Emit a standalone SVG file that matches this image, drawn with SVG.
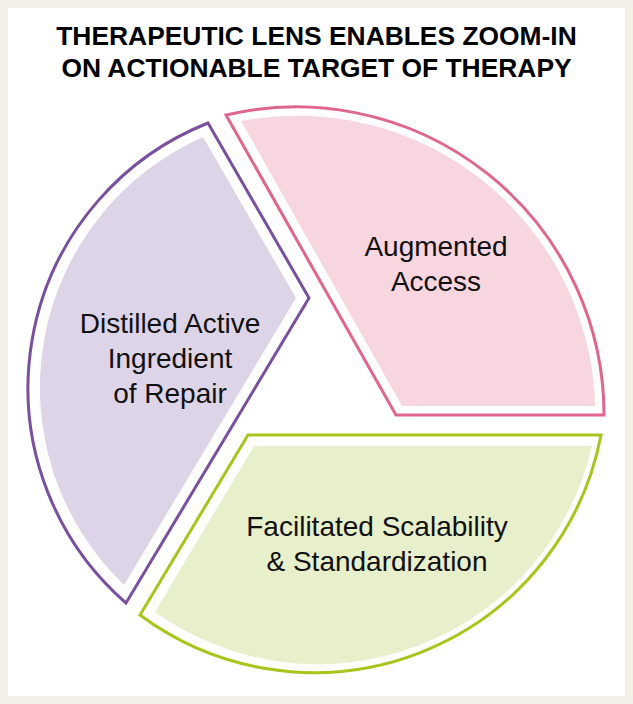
<svg xmlns="http://www.w3.org/2000/svg" width="633" height="704" viewBox="0 0 633 704">
<style>
.title{font-family:"Liberation Sans",Arial,sans-serif;font-weight:bold;font-size:26.4px;fill:#000;text-anchor:middle}
.lbl{font-family:"Liberation Sans",Arial,sans-serif;font-size:28px;fill:#111;text-anchor:middle}
.out{fill:none;stroke-width:3;stroke-linejoin:miter}
</style>
<rect x="0" y="0" width="633" height="704" fill="#f3f0e8"/>
<rect x="8" y="8" width="617" height="688" fill="#ffffff"/>
<g id="title">
<text class="title" x="316.5" y="45">THERAPEUTIC LENS ENABLES ZOOM-IN</text>
<text class="title" x="316.5" y="77">ON ACTIONABLE TARGET OF THERAPY</text>
</g>
<g id="purple">
<path d="M203,137 L296,298 L124,585 A274,274 0 0 1 203,137 Z" fill="#ddd4e8"/>
<path class="out" d="M208,123 L309,298 L126,603 A285,285 0 0 1 208,123 Z" stroke="#7a4f9e"/>
<text class="lbl" x="170" y="333">Distilled Active</text>
<text class="lbl" x="170" y="368">Ingredient</text>
<text class="lbl" x="170" y="403">of Repair</text>
</g>
<g id="pink">
<path d="M241,121 L402,406 L595,406 A298,298 0 0 0 241,121 Z" fill="#f8d6df"/>
<path class="out" d="M226,115 L396,415 L604,415 A308,308 0 0 0 226,115 Z" stroke="#e0668c"/>
<text class="lbl" x="436" y="256">Augmented</text>
<text class="lbl" x="436" y="291">Access</text>
</g>
<g id="green">
<path d="M254,446 L592,446 A281,281 0 0 1 155,612 Z" fill="#e8efcb"/>
<path class="out" d="M248,435 L601,435 A292,292 0 0 1 140,615 Z" stroke="#a6c61c"/>
<text class="lbl" x="377" y="536">Facilitated Scalability</text>
<text class="lbl" x="377" y="571">&amp; Standardization</text>
</g>
<g id="connectors"></g>
</svg>
